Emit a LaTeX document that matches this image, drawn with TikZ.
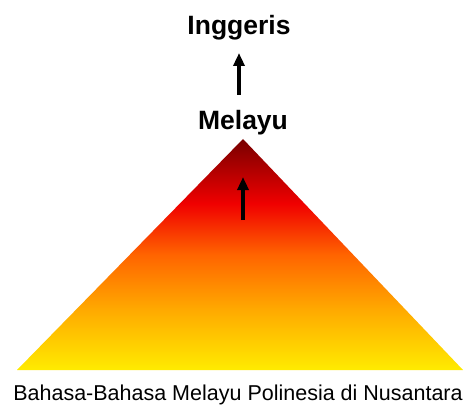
\documentclass[tikz,border=0pt]{standalone}
\usepackage{fontspec}
\setmainfont{Liberation Sans}
\usepackage{tikz}
\usetikzlibrary{arrows.meta}
\definecolor{pyrdark}{RGB}{120,0,0}
\definecolor{pyrred}{RGB}{240,0,0}
\definecolor{pyrorange}{RGB}{255,100,0}
\definecolor{pyramber}{RGB}{255,170,0}
\definecolor{pyryellow}{RGB}{255,235,0}
\pgfdeclareverticalshading{pyramidshade}{100bp}{color(0bp)=(pyryellow); color(25bp)=(pyryellow); color(38bp)=(pyramber); color(50bp)=(pyrorange); color(61bp)=(pyrred); color(75bp)=(pyrdark); color(100bp)=(pyrdark)}
\tikzset{
  langtitle/.style={font=\fontsize{26.5}{30}\selectfont\bfseries, inner sep=0pt, anchor=base},
  baselabel/.style={font=\fontsize{21.5}{25}\selectfont, inner sep=0pt, anchor=base},
  uparrow/.style={-{Triangle[length=13pt,width=11pt]}, line width=4pt, color=black}
}

\begin{document}
\begin{tikzpicture}[x=1pt, y=-1pt]
  \useasboundingbox (0,0) rectangle (465,406);

  % Pyramid of languages
  \shade[shading=pyramidshade] (17,370) -- (243,139) -- (463,370) -- cycle;

  % Labels
  \node[langtitle] (inggeris) at (239,35) {Inggeris};
  \node[langtitle] (melayu) at (243,130) {Melayu};
  \node[baselabel] (nusantara) at (238,400) {Bahasa-Bahasa Melayu Polinesia di Nusantara};

  % Arrows
  \coordinate (uptail) at (239,95);
  \coordinate (uptip) at (239,53);
  \draw[uparrow] (uptail) -- (uptip);
  \coordinate (lowtail) at (243,220);
  \coordinate (lowtip) at (243,177);
  \draw[uparrow] (lowtail) -- (lowtip);
\end{tikzpicture}
\end{document}
